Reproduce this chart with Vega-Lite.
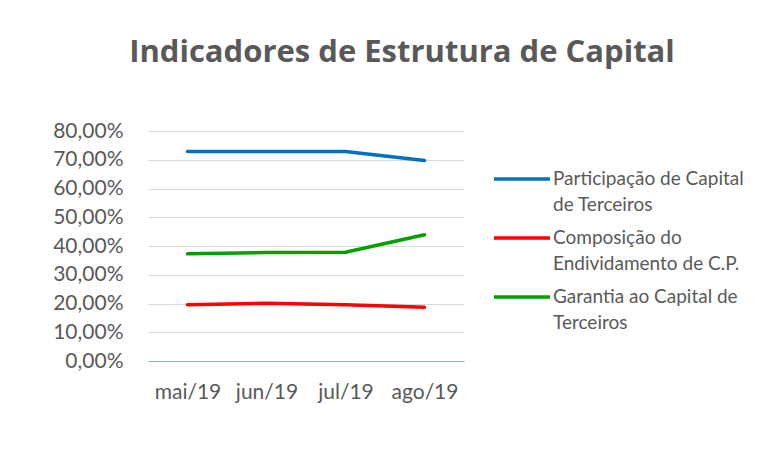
{
  "$schema": "https://vega.github.io/schema/vega-lite/v6.json",
  "width": 316,
  "height": 230,
  "autosize": {"type": "none"},
  "padding": {"left": 148, "top": 131, "right": 312, "bottom": 97},
  "background": "white",
  "title": {
    "text": "Indicadores de Estrutura de Capital",
    "font": "Open Sans",
    "fontSize": 31,
    "fontWeight": "bold",
    "color": "#595959",
    "anchor": "middle",
    "dx": 96,
    "baseline": "alphabetic",
    "offset": 27
  },
  "data": {
    "values": [
      {"mes": "mai/19", "serie": "Participação de Capital de Terceiros", "valor": 0.729},
      {"mes": "jun/19", "serie": "Participação de Capital de Terceiros", "valor": 0.729},
      {"mes": "jul/19", "serie": "Participação de Capital de Terceiros", "valor": 0.729},
      {"mes": "ago/19", "serie": "Participação de Capital de Terceiros", "valor": 0.697},
      {"mes": "mai/19", "serie": "Composição do Endividamento de C.P.", "valor": 0.196},
      {"mes": "jun/19", "serie": "Composição do Endividamento de C.P.", "valor": 0.201},
      {"mes": "jul/19", "serie": "Composição do Endividamento de C.P.", "valor": 0.196},
      {"mes": "ago/19", "serie": "Composição do Endividamento de C.P.", "valor": 0.187},
      {"mes": "mai/19", "serie": "Garantia ao Capital de Terceiros", "valor": 0.373},
      {"mes": "jun/19", "serie": "Garantia ao Capital de Terceiros", "valor": 0.377},
      {"mes": "jul/19", "serie": "Garantia ao Capital de Terceiros", "valor": 0.378},
      {"mes": "ago/19", "serie": "Garantia ao Capital de Terceiros", "valor": 0.439}
    ]
  },
  "mark": {"type": "line", "strokeWidth": 3.5, "strokeCap": "round"},
  "encoding": {
    "x": {
      "field": "mes",
      "type": "ordinal",
      "sort": ["mai/19", "jun/19", "jul/19", "ago/19"],
      "scale": {"type": "point", "padding": 0.5},
      "axis": {
        "title": null,
        "labelAngle": 0,
        "ticks": false,
        "grid": false,
        "domain": true,
        "domainColor": "#8FAADC",
        "domainWidth": 1,
        "labelPadding": 20,
        "labelFont": "Lato",
        "labelFontSize": 21,
        "labelColor": "#595959"
      }
    },
    "y": {
      "field": "valor",
      "type": "quantitative",
      "scale": {"domain": [0, 0.8], "nice": false},
      "axis": {
        "title": null,
        "values": [0, 0.1, 0.2, 0.3, 0.4, 0.5, 0.6, 0.7, 0.8],
        "format": ".2%",
        "domain": false,
        "ticks": false,
        "grid": true,
        "gridColor": "#D9D9D9",
        "gridWidth": 1,
        "labelPadding": 25,
        "labelFont": "Lato",
        "labelFontSize": 21,
        "labelColor": "#595959"
      }
    },
    "color": {
      "field": "serie",
      "type": "nominal",
      "sort": ["Participação de Capital de Terceiros", "Composição do Endividamento de C.P.", "Garantia ao Capital de Terceiros"],
      "scale": {
        "domain": ["Participação de Capital de Terceiros", "Composição do Endividamento de C.P.", "Garantia ao Capital de Terceiros"],
        "range": ["#0070C0", "#FF0000", "#00A000"]
      },
      "legend": {
        "title": null,
        "orient": "none",
        "legendX": 358,
        "legendY": 32,
        "symbolType": "M-2,0H2",
        "symbolSize": 784,
        "symbolStrokeWidth": 3.5,
        "labelFont": "Lato",
        "labelFontSize": 19,
        "labelColor": "#595959",
        "labelOffset": 15,
        "labelLimit": 400,
        "rowPadding": 7,
        "encode": {"labels": {"update": {"lineHeight": {"value": 26}}}},
        "labelExpr": "datum.label == 'Participação de Capital de Terceiros' ? ['Participação de Capital', 'de Terceiros'] : datum.label == 'Composição do Endividamento de C.P.' ? ['Composição do', 'Endividamento de C.P.'] : ['Garantia ao Capital de', 'Terceiros']"
      }
    }
  },
  "config": {
    "locale": {"number": {"decimal": ",", "thousands": ".", "grouping": [3], "currency": ["R$", ""]}},
    "view": {"stroke": null}
  }
}
